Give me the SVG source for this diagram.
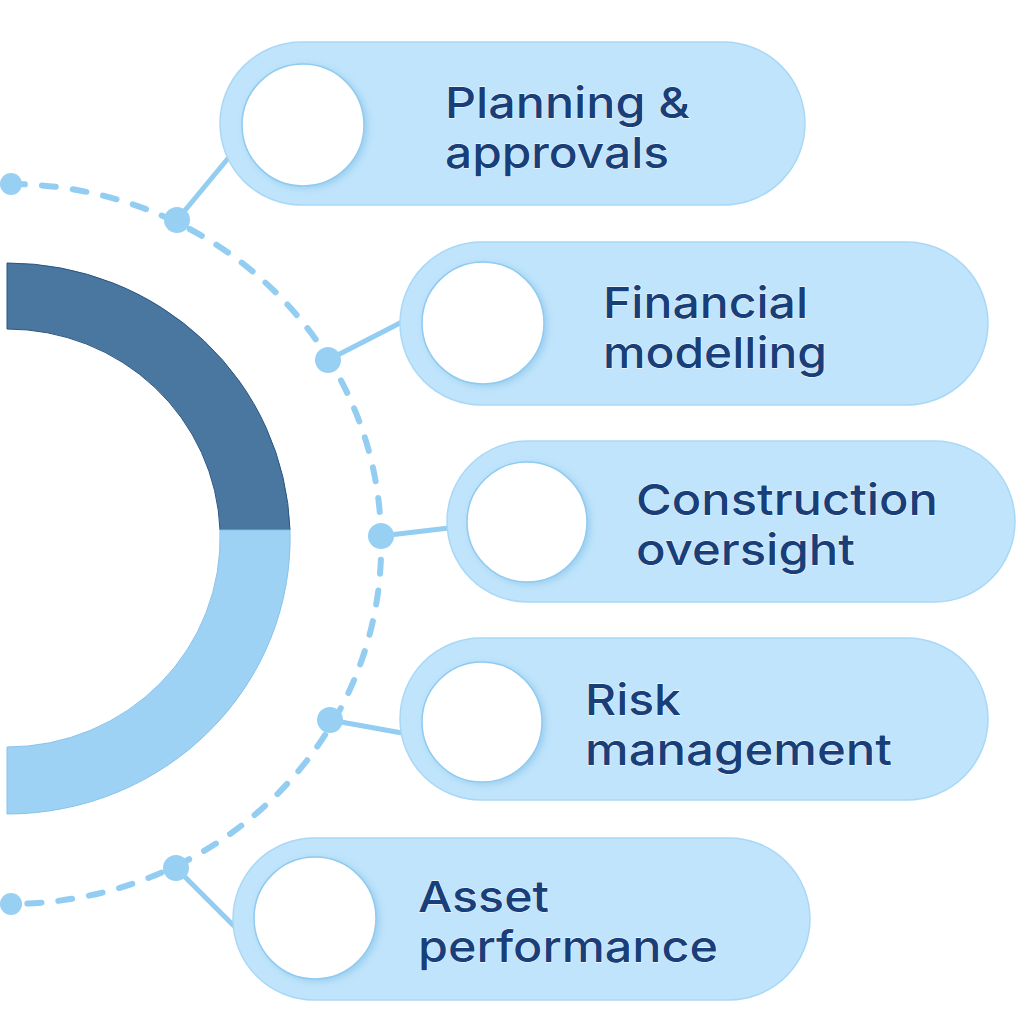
<svg xmlns="http://www.w3.org/2000/svg" width="1024" height="1034" viewBox="0 0 1024 1034">
<defs>
<filter id="sh" x="-20%" y="-20%" width="140%" height="140%">
<feDropShadow dx="3" dy="2" stdDeviation="3" flood-color="#5fa8dc" flood-opacity="0.35"/>
</filter>
</defs>
<style>
.pill{fill:#bfe4fb;stroke:#a9d8f6;stroke-width:1.5}
.hole{fill:#ffffff;stroke:#8fcaf0;stroke-width:1.5}
.lbl{font-family:Inter,Roboto,"Liberation Sans",sans-serif;font-weight:500;font-size:43px;fill:#183f7a;stroke:#ffffff;stroke-width:0.8;paint-order:stroke}
.dash{fill:none;stroke:#93cdf1;stroke-width:6;stroke-linecap:round;stroke-dasharray:14 17}
.link{stroke:#93cdf1;stroke-width:5;stroke-linecap:round}
.dot{fill:#98d0f3}
</style>
<rect width="1024" height="1034" fill="#ffffff"/>
<g id="ring">
<path d="M7 263 A283 276 0 0 1 290 530 L220 530 A213 209 0 0 0 7 329 Z" fill="#4a77a0" stroke="#2a5580" stroke-width="1"/>
<path d="M290 530 A283 276 0 0 1 7 814 L7 747 A213 209 0 0 0 220 530 Z" fill="#9ed2f4" stroke="#86c2ec" stroke-width="1"/>
</g>
<g id="connectors">
<path class="dash" d="M11 184 A372 358 0 0 1 381 536 A372 358 0 0 1 11 904"/>
<line class="link" x1="177" y1="220" x2="230" y2="156"/>
<line class="link" x1="328" y1="360" x2="402" y2="322"/>
<line class="link" x1="381" y1="536" x2="449" y2="528"/>
<line class="link" x1="330" y1="720" x2="402" y2="733"/>
<line class="link" x1="176" y1="868" x2="234" y2="926"/>
<circle class="dot" cx="11" cy="184" r="11"/>
<circle class="dot" cx="177" cy="220" r="13"/>
<circle class="dot" cx="328" cy="360" r="13"/>
<circle class="dot" cx="381" cy="536" r="13"/>
<circle class="dot" cx="330" cy="720" r="13"/>
<circle class="dot" cx="176" cy="868" r="13"/>
<circle class="dot" cx="11" cy="904" r="11"/>
</g>
<g id="node-planning">
<rect class="pill" x="220" y="42" width="585" height="163" rx="81.5"/>
<circle class="hole" cx="303" cy="125" r="61" filter="url(#sh)"/>
<text class="lbl" x="445" y="118" textLength="245" lengthAdjust="spacingAndGlyphs">Planning &amp;</text>
<text class="lbl" x="445" y="168" textLength="224" lengthAdjust="spacingAndGlyphs">approvals</text>
</g>
<g id="node-financial">
<rect class="pill" x="400" y="242" width="588" height="163" rx="81.5"/>
<circle class="hole" cx="483" cy="323" r="61" filter="url(#sh)"/>
<text class="lbl" x="603" y="318" textLength="205" lengthAdjust="spacingAndGlyphs">Financial</text>
<text class="lbl" x="603" y="368" textLength="224" lengthAdjust="spacingAndGlyphs">modelling</text>
</g>
<g id="node-construction">
<rect class="pill" x="447" y="441" width="568" height="161" rx="80.5"/>
<circle class="hole" cx="527" cy="522" r="60" filter="url(#sh)"/>
<text class="lbl" x="636" y="515" textLength="302" lengthAdjust="spacingAndGlyphs">Construction</text>
<text class="lbl" x="636" y="565" textLength="219" lengthAdjust="spacingAndGlyphs">oversight</text>
</g>
<g id="node-risk">
<rect class="pill" x="400" y="638" width="588" height="162" rx="81"/>
<circle class="hole" cx="482" cy="722" r="60" filter="url(#sh)"/>
<text class="lbl" x="585" y="715" textLength="96" lengthAdjust="spacingAndGlyphs">Risk</text>
<text class="lbl" x="585" y="765" textLength="307" lengthAdjust="spacingAndGlyphs">management</text>
</g>
<g id="node-asset">
<rect class="pill" x="233" y="838" width="577" height="162" rx="81"/>
<circle class="hole" cx="315" cy="918" r="61" filter="url(#sh)"/>
<text class="lbl" x="418" y="912" textLength="131" lengthAdjust="spacingAndGlyphs">Asset</text>
<text class="lbl" x="418" y="962" textLength="300" lengthAdjust="spacingAndGlyphs">performance</text>
</g>
</svg>
